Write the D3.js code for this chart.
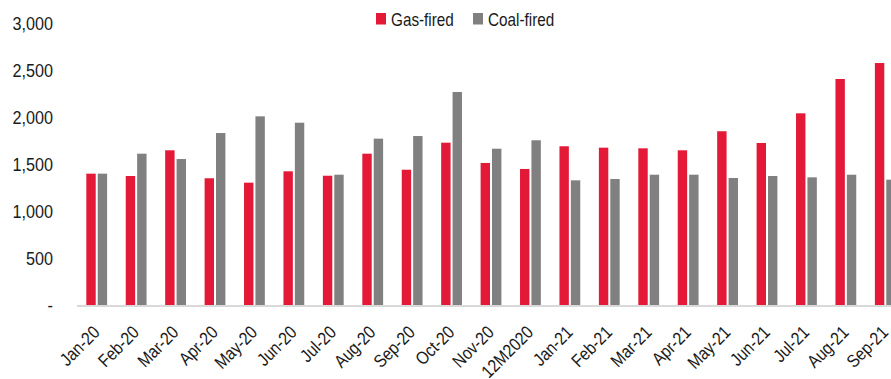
<!DOCTYPE html>
<html>
<head>
<meta charset="utf-8">
<script src="https://cdn.jsdelivr.net/npm/d3@7"></script>
<style>
  html, body { margin: 0; padding: 0; background: #fff; }
  svg { display: block; }
  text { font-family: "Liberation Sans", Arial, sans-serif; fill: #1a1a1a; }
</style>
</head>
<body>
<svg id="chart" width="891" height="379"></svg>
<script>
// Monthly generation by fuel type
const categories = ["Jan-20", "Feb-20", "Mar-20", "Apr-20", "May-20", "Jun-20", "Jul-20",
  "Aug-20", "Sep-20", "Oct-20", "Nov-20", "12M2020", "Jan-21", "Feb-21", "Mar-21",
  "Apr-21", "May-21", "Jun-21", "Jul-21", "Aug-21", "Sep-21"];
const gasFired  = [1405, 1380, 1654, 1356, 1309, 1430, 1383, 1618, 1447, 1735, 1519, 1455,
  1697, 1682, 1675, 1654, 1857, 1732, 2048, 2414, 2584];
const coalFired = [1405, 1618, 1561, 1838, 2016, 1948, 1394, 1778, 1806, 2275, 1671, 1761,
  1334, 1348, 1394, 1394, 1359, 1380, 1366, 1394, 1341];
const seriesNames = ["Gas-fired", "Coal-fired"];
const seriesColors = ["#e31937", "#808080"];
const yTicks = [0, 500, 1000, 1500, 2000, 2500, 3000];

const svg = d3.select("#chart");

const x = d3.scaleBand().domain(categories).range([77, 905]).paddingInner(0).paddingOuter(0);
const y = d3.scaleLinear().domain([0, 3000]).range([305.5, 24]);

const barW = 9.4;
const gap = 2;

// y axis labels (condensed look via horizontal squeeze)
const fmt = d => d === 0 ? "-" : d3.format(",")(d);
const yAxis = d3.axisLeft(y).tickValues(yTicks).tickFormat(fmt).tickSize(0).tickPadding(0);
const yG = svg.append("g").attr("transform", "translate(53,0)").call(yAxis);
yG.select(".domain").remove();
yG.selectAll("text")
  .attr("font-size", 18)
  .style("font-family", null)
  .attr("fill", "#1a1a1a")
  .attr("transform", "scale(0.9,1)");

// bars
const series = [gasFired, coalFired];
series.forEach((vals, si) => {
  svg.append("g").selectAll("rect").data(vals).join("rect")
    .attr("x", (d, i) => {
      const c = x(categories[i]) + x.bandwidth() / 2;
      return si === 0 ? c - gap / 2 - barW : c + gap / 2;
    })
    .attr("y", d => y(d))
    .attr("width", barW)
    .attr("height", d => y(0) - y(d))
    .attr("fill", seriesColors[si]);
});

// baseline
svg.append("line")
  .attr("x1", 77).attr("x2", 905)
  .attr("y1", y(0) + 0.5).attr("y2", y(0) + 0.5)
  .attr("stroke", "#d9d9d9").attr("stroke-width", 2);

// x axis labels, rotated
const xAxis = d3.axisBottom(x).tickSize(0).tickPadding(0);
const xG = svg.append("g").attr("transform", `translate(0,${y(0)})`).call(xAxis);
xG.select(".domain").remove();
xG.selectAll("text")
  .attr("font-size", 18)
  .style("font-family", null)
  .attr("fill", "#1a1a1a")
  .attr("text-anchor", "end")
  .attr("dy", null)
  .attr("y", 0)
  .attr("transform", "translate(4,28) rotate(-45) scale(0.86,1)");

// legend
const legend = svg.append("g");
const legendX = [376, 473];
seriesNames.forEach((name, i) => {
  const g = legend.append("g").attr("transform", `translate(${legendX[i]},13)`);
  g.append("rect").attr("width", 10).attr("height", 11.5).attr("fill", seriesColors[i]);
  g.append("text")
    .attr("transform", "translate(15,12.8) scale(0.85,1)")
    .attr("font-size", 18)
    .text(name);
});
</script>
</body>
</html>
